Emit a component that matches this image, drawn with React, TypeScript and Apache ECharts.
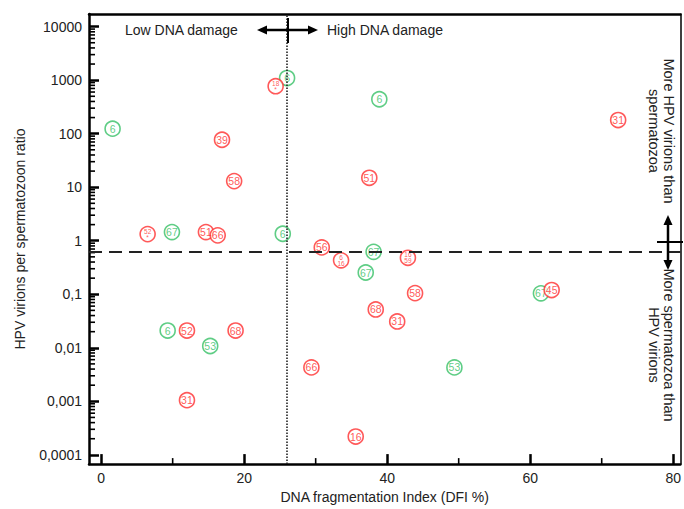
import React, { useEffect, useRef } from "react";
import * as echarts from "echarts";

// ---- data ----
const redX = [24.4, 16.9, 18.6, 72.3, 37.5, 6.5, 14.65, 16.3, 30.85, 33.55, 38.4, 12.0, 18.8, 42.9, 43.9, 41.4, 63.0, 29.4, 12.0, 35.6];
const redY = [770, 77, 13, 180, 15, 1.33, 1.45, 1.26, 0.75, 0.43, 0.052, 0.021, 0.021, 0.48, 0.105, 0.031, 0.12, 0.0043, 0.00105, 0.00022];
const redLabels = ["18|*", "39", "58", "31", "51", "52|*", "51", "66", "56", "6|16", "68", "52", "68", "16|59", "58", "31", "45", "66", "31", "16"];

const greenX = [1.6, 26.0, 38.9, 9.9, 25.4, 38.1, 37.0, 9.3, 15.25, 61.5, 49.4];
const greenY = [124, 1096, 440, 1.45, 1.35, 0.62, 0.255, 0.021, 0.0108, 0.104, 0.0043];
const greenLabels = ["6", "6", "6", "67", "6", "67", "67", "6", "53", "67", "53"];

const ratioThreshold = 0.63;
const dfiThreshold = 26;

const xTicks = [0, 20, 40, 60, 80];
const xMinorTicks = [10, 30, 50, 70];
const yTicks = [0.0001, 0.001, 0.01, 0.1, 1, 10, 100, 1000, 10000];
const yMinorTicks: number[] = [];
for (let k = -4; k <= 3; k++) {
  for (let m = 2; m <= 9; m++) yMinorTicks.push(Number((m * Math.pow(10, k)).toPrecision(6)));
}

const RED = "#ff3030";
const GREEN = "#37c066";
const FONT = "'Liberation Sans', Arial, sans-serif";
const TICK = "#000";

const X_MIN = -1.7;
const X_MAX = 81;
const Y_MIN = Math.pow(10, -4.173);
const Y_MAX = Math.pow(10, 4.236);

function buildData(xs: number[], ys: number[], labels: string[]) {
  return xs.map((x, i) => [x, ys[i], labels[i]]);
}

function labelFormatter(p: any) {
  const s: string = p.data[2];
  if (s.indexOf("|") >= 0) {
    const [a, b] = s.split("|");
    return "{s|" + a + "}\n{s|" + b + "}";
  }
  return s;
}

function scatterSeries(name: string, color: string, data: any[], z: number) {
  return {
    name,
    type: "scatter",
    data,
    z,
    symbol: "circle",
    symbolSize: 15,
    itemStyle: { color: "#fff", borderColor: color, borderWidth: 1.6 },
    label: {
      show: true,
      position: "inside",
      color,
      fontSize: 10.5,
      fontFamily: FONT,
      formatter: labelFormatter,
      rich: { s: { fontSize: 6.5, lineHeight: 6, color, fontFamily: FONT } },
    },
    emphasis: { disabled: true },
  };
}

// minor tick marks drawn through the axes' own scales
function minorTickSeries(data: number[][], dir: "x" | "y") {
  return {
    type: "custom",
    data,
    z: 2,
    silent: true,
    clip: false,
    renderItem: (_params: any, api: any) => {
      const p = api.coord([api.value(0), api.value(1)]);
      const shape = dir === "y"
        ? { x1: p[0], y1: p[1], x2: p[0] + 6, y2: p[1] }
        : { x1: p[0], y1: p[1], x2: p[0], y2: p[1] - 6 };
      return { type: "line", shape, style: { stroke: TICK, lineWidth: 1.6 } };
    },
  };
}

export default function App() {
  const ref = useRef<HTMLDivElement>(null);
  useEffect(() => {
    document.body.style.margin = "0";
    const chart = echarts.init(ref.current!, null, { renderer: "svg" });
    const axisLine = { lineStyle: { color: "#000", width: 2.5 } };
    const frameAxis = {
      axisTick: { show: false },
      axisLabel: { show: false },
      splitLine: { show: false },
    };
    const option: any = {
      animation: false,
      grid: { left: 89, right: 2, top: 14, bottom: 42 },
      xAxis: [
        {
          type: "value",
          min: X_MIN,
          max: X_MAX,
          position: "bottom",
          axisLine: { onZero: false, ...axisLine },
          axisTick: { inside: true, length: 10, customValues: xTicks, lineStyle: { color: TICK, width: 2.5 } },
          axisLabel: { customValues: xTicks, color: "#222", fontSize: 14, fontFamily: FONT, margin: 7 },
          splitLine: { show: false },
          name: "DNA fragmentation Index (DFI %)",
          nameLocation: "middle",
          nameGap: 24,
          nameTextStyle: { color: "#222", fontSize: 14, fontFamily: FONT },
        },
        {
          type: "value",
          min: X_MIN,
          max: X_MAX,
          position: "top",
          axisLine: { show: true, onZero: false, lineStyle: { color: "#000", width: 2.5 } },
          ...frameAxis,
        },
      ],
      yAxis: [
        {
          type: "log",
          logBase: 10,
          min: Y_MIN,
          max: Y_MAX,
          position: "left",
          axisLine: { onZero: false, ...axisLine },
          axisTick: { inside: true, length: 10, customValues: yTicks, lineStyle: { color: TICK, width: 2.5 } },
          axisLabel: {
            customValues: yTicks,
            color: "#222",
            fontSize: 14,
            fontFamily: FONT,
            margin: 7,
            formatter: (v: number) => String(Number(Number(v).toPrecision(6))).replace(".", ","),
          },
          splitLine: { show: false },
          name: "HPV virions per spermatozoon ratio",
          nameLocation: "middle",
          nameGap: 62,
          nameTextStyle: { color: "#222", fontSize: 14, fontFamily: FONT },
        },
        {
          type: "log",
          logBase: 10,
          min: Y_MIN,
          max: Y_MAX,
          position: "right",
          axisLine: { show: true, onZero: false, lineStyle: { color: "#000", width: 1.5 } },
          ...frameAxis,
        },
      ],
      series: [
        {
          type: "line",
          data: [],
          z: 1,
          silent: true,
          markLine: {
            silent: true,
            symbol: ["none", "none"],
            label: { show: false },
            data: [
              { yAxis: ratioThreshold, lineStyle: { color: "#222", width: 2, type: [13, 7] } },
              { xAxis: dfiThreshold, lineStyle: { color: "#222", width: 1.6, type: [1.5, 1.5] } },
            ],
          },
        },
        minorTickSeries(yMinorTicks.map((v) => [X_MIN, v]), "y"),
        minorTickSeries(xMinorTicks.map((v) => [v, Y_MIN]), "x"),
        scatterSeries("green", GREEN, buildData(greenX, greenY, greenLabels), 3),
        scatterSeries("red", RED, buildData(redX, redY, redLabels), 4),
      ],
      graphic: [
        { type: "text", x: 125, y: 30, z: 100, style: { text: "Low DNA damage", fill: "#222", fontSize: 14, fontFamily: FONT, align: "left", verticalAlign: "middle" } },
        { type: "text", x: 327, y: 30, z: 100, style: { text: "High DNA damage", fill: "#222", fontSize: 14, fontFamily: FONT, align: "left", verticalAlign: "middle" } },
        { type: "line", z: 100, shape: { x1: 264, y1: 30, x2: 311, y2: 30 }, style: { stroke: "#000", lineWidth: 2.5 } },
        { type: "polygon", z: 100, shape: { points: [[257, 30], [267, 25.5], [267, 34.5]] }, style: { fill: "#000" } },
        { type: "polygon", z: 100, shape: { points: [[318, 30], [308, 25.5], [308, 34.5]] }, style: { fill: "#000" } },
        { type: "line", z: 100, shape: { x1: 288, y1: 18, x2: 288, y2: 43 }, style: { stroke: "#000", lineWidth: 2 } },

        { type: "line", z: 100, shape: { x1: 668, y1: 222, x2: 668, y2: 263 }, style: { stroke: "#000", lineWidth: 2.5 } },
        { type: "polygon", z: 100, shape: { points: [[668, 215], [663.5, 225], [672.5, 225]] }, style: { fill: "#000" } },
        { type: "polygon", z: 100, shape: { points: [[668, 270], [663.5, 260], [672.5, 260]] }, style: { fill: "#000" } },
        { type: "line", z: 100, shape: { x1: 657, y1: 242, x2: 683, y2: 242 }, style: { stroke: "#000", lineWidth: 2 } },
        {
          type: "text", x: 661, y: 131, rotation: -Math.PI / 2, z: 100,
          style: { text: "More HPV virions than\nspermatozoa", fill: "#222", fontSize: 14.5, lineHeight: 15, fontFamily: FONT, align: "center", verticalAlign: "middle" },
        },
        {
          type: "text", x: 661, y: 345, rotation: -Math.PI / 2, z: 100,
          style: { text: "More spermatozoa than\nHPV virions", fill: "#222", fontSize: 14.5, lineHeight: 15, fontFamily: FONT, align: "center", verticalAlign: "middle" },
        },
      ],
    };
    chart.setOption(option);
    return () => chart.dispose();
  }, []);
  return <div ref={ref} style={{ width: 684, height: 509 }} />;
}
